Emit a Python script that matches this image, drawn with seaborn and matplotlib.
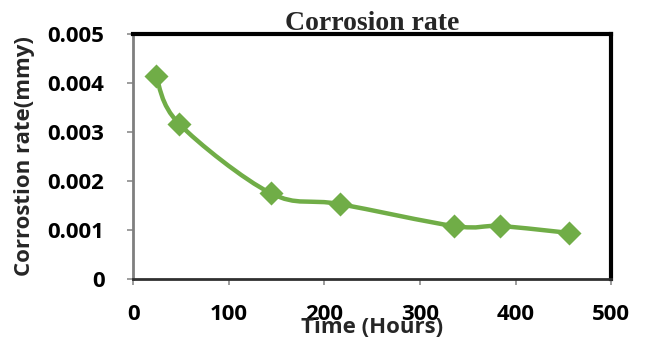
import numpy as np
import pandas as pd
import matplotlib
matplotlib.use("Agg")
import matplotlib.pyplot as plt
from matplotlib.path import Path
from matplotlib.patches import PathPatch
from matplotlib.ticker import FuncFormatter
import seaborn as sns

time_hours = [24, 48, 144, 216, 336, 384, 456]
corrosion_rate = [0.00414, 0.00317, 0.00175, 0.00153, 0.00108, 0.00108, 0.00094]
x_ticks = [0, 100, 200, 300, 400, 500]
y_ticks = [0, 0.001, 0.002, 0.003, 0.004, 0.005]
title = "Corrosion rate"
x_label = "Time (Hours)"
y_label = "Corrostion rate(mmy)"

GREEN = "#70AD47"

sns.set_theme(style="white")
plt.rcParams["font.family"] = ["Open Sans", "DejaVu Sans"]

df = pd.DataFrame({"time": time_hours, "rate": corrosion_rate})

fig = plt.figure(figsize=(6.46, 3.41), dpi=100)
ax = fig.add_axes([0.206, 0.182, 0.740, 0.718])

# Smoothed line (Catmull-Rom as cubic Bezier, like a spreadsheet smooth line)
pts = np.column_stack([df["time"].to_numpy(float), df["rate"].to_numpy(float)])
n = len(pts)
verts = [tuple(pts[0])]
codes = [Path.MOVETO]
for i in range(n - 1):
    p0 = pts[i - 1] if i > 0 else pts[i]
    p1 = pts[i]
    p2 = pts[i + 1]
    p3 = pts[i + 2] if i + 2 < n else pts[i + 1]
    c1 = p1 + (p2 - p0) / 6.0
    c2 = p2 - (p3 - p1) / 6.0
    verts += [tuple(c1), tuple(c2), tuple(p2)]
    codes += [Path.CURVE4] * 3
ax.add_patch(PathPatch(Path(verts, codes), fill=False, edgecolor=GREEN,
                       lw=3.2, capstyle="round", joinstyle="round", zorder=2))

sns.scatterplot(data=df, x="time", y="rate", marker="D", s=150, color=GREEN,
                edgecolor=GREEN, linewidth=0, ax=ax, zorder=3, legend=False)

ax.set_xlim(0, 500)
ax.set_ylim(0, 0.005)
ax.set_xticks(x_ticks)
ax.set_yticks(y_ticks)
ax.yaxis.set_major_formatter(FuncFormatter(lambda v, p: "0" if abs(v) < 1e-12 else f"{v:.3f}"))

for lab in ax.get_xticklabels() + ax.get_yticklabels():
    lab.set_fontweight("bold")
    lab.set_fontsize(16)
    lab.set_color("black")

ax.tick_params(axis="both", which="major", direction="out", length=4, width=1.2,
               color="#8c8c8c", bottom=True, left=True)
ax.tick_params(axis="y", pad=16.5)
ax.tick_params(axis="x", pad=14)

for side in ["top", "right"]:
    ax.spines[side].set_color("black")
    ax.spines[side].set_linewidth(3)
ax.spines["left"].set_color("#7f7f7f")
ax.spines["left"].set_linewidth(2)
ax.spines["bottom"].set_color("#303030")
ax.spines["bottom"].set_linewidth(2)

ax.set_xlabel(x_label, fontsize=16, fontweight="bold", va="center")
ax.xaxis.set_label_coords(0.5, -0.2)
ax.set_ylabel(y_label, fontsize=16, fontweight="bold", va="center")
ax.yaxis.set_label_coords(-0.228, 0.5)
ax.set_title(title, fontsize=20, fontweight="bold", family=["Liberation Serif"], pad=3)
ax.grid(False)

fig.savefig("out.png", dpi=100, facecolor="white")
